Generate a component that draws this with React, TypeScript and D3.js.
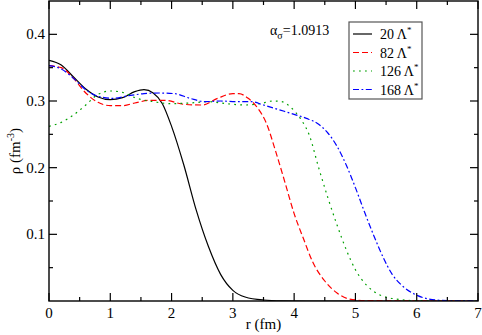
import React from 'react';
import * as d3 from 'd3';

// radial density profiles
const r20 = [0, 0.2, 0.4, 0.6, 0.8, 1.0, 1.2, 1.4, 1.55, 1.7, 1.85, 2.0, 2.2, 2.4, 2.6, 2.8, 3.0, 3.2, 3.5, 3.8, 4.2, 7];
const rho20 = [0.361, 0.354, 0.336, 0.318, 0.306, 0.302, 0.305, 0.314, 0.317, 0.312, 0.296, 0.262, 0.204, 0.137, 0.082, 0.040, 0.016, 0.006, 0.0015, 0.0003, 0, 0];

const r82 = [0, 0.2, 0.4, 0.6, 0.8, 1.0, 1.2, 1.4, 1.65, 1.9, 2.2, 2.5, 2.75, 3.0, 3.1, 3.25, 3.4, 3.55, 3.7, 3.85, 4.0, 4.15, 4.3, 4.5, 4.7, 4.9, 5.2, 7];
const rho82 = [0.353, 0.350, 0.334, 0.312, 0.298, 0.293, 0.293, 0.297, 0.301, 0.301, 0.295, 0.294, 0.304, 0.311, 0.311, 0.304, 0.290, 0.266, 0.224, 0.178, 0.131, 0.094, 0.059, 0.030, 0.012, 0.003, 0.0005, 0];

const r126 = [0, 0.2, 0.4, 0.6, 0.8, 1.0, 1.2, 1.4, 1.7, 2.0, 2.3, 2.6, 2.9, 3.2, 3.45, 3.65, 3.8, 3.95, 4.1, 4.25, 4.4, 4.55, 4.7, 4.85, 5.0, 5.2, 5.4, 5.7, 6.0, 7];
const rho126 = [0.262, 0.268, 0.279, 0.294, 0.310, 0.315, 0.313, 0.305, 0.299, 0.296, 0.297, 0.299, 0.296, 0.294, 0.296, 0.300, 0.299, 0.290, 0.274, 0.248, 0.200, 0.155, 0.114, 0.077, 0.047, 0.022, 0.009, 0.0025, 0.0005, 0];

const r168 = [0, 0.2, 0.4, 0.6, 0.8, 1.05, 1.3, 1.55, 1.8, 2.05, 2.3, 2.55, 2.8, 3.05, 3.3, 3.5, 3.75, 4.0, 4.2, 4.4, 4.55, 4.7, 4.85, 5.0, 5.15, 5.3, 5.45, 5.6, 5.75, 5.95, 6.2, 6.5, 7];
const rho168 = [0.353, 0.348, 0.334, 0.317, 0.307, 0.304, 0.308, 0.311, 0.312, 0.311, 0.304, 0.299, 0.300, 0.299, 0.299, 0.294, 0.287, 0.280, 0.274, 0.265, 0.252, 0.232, 0.204, 0.170, 0.133, 0.098, 0.066, 0.040, 0.024, 0.011, 0.003, 0.0005, 0];

const seriesNames = ['20', '82', '126', '168'];
const seriesColors = ['#000000', '#ff0000', '#00a000', '#0000ff'];
const seriesDash = ['none', '6,3', '1.8,4.2', '6,2.5,1.8,2.5'];

const xTickLabels = ['0', '1', '2', '3', '4', '5', '6', '7'];
const yTickLabels = ['0.1', '0.2', '0.3', '0.4'];

const W = 482;
const H = 335;
const margin = { top: 1, right: 4, bottom: 34, left: 49 };
const font = "'Liberation Serif', 'Times New Roman', Times, serif";

export default function App() {
  const x = d3.scaleLinear().domain([0, 7]).range([margin.left, W - margin.right]);
  const y = d3.scaleLinear().domain([0, 0.45]).range([H - margin.bottom, margin.top]);

  const allR = [r20, r82, r126, r168];
  const allRho = [rho20, rho82, rho126, rho168];

  const line = d3.line<[number, number]>()
    .x(d => x(d[0]))
    .y(d => y(d[1]))
    .curve(d3.curveMonotoneX);

  const x0 = x(0), x1 = x(7), y0 = y(0), y1 = y(0.45);
  const xMajor = d3.range(0, 8, 1);
  const xMinor = d3.range(0.5, 7, 1);
  const yMajor = d3.range(0.1, 0.45, 0.1);
  const yMinor = d3.range(0.05, 0.45, 0.1);

  const legX = 349, legY = 22;
  const legRowY = [34, 52.5, 71, 89.5];

  return (
    <svg width={W} height={H} style={{ position: 'absolute', left: 0, top: 0, fontFamily: font }}>
      <rect x={0} y={0} width={W} height={H} fill="#fff" />
      <defs>
        <clipPath id="plotclip">
          <rect x={x0} y={y1} width={x1 - x0} height={y0 - y1} />
        </clipPath>
      </defs>

      <g clipPath="url(#plotclip)">
        {allR.map((rs, i) => (
          <path key={i}
            d={line(rs.map((r, k) => [r, allRho[i][k]] as [number, number])) || ''}
            fill="none" stroke={seriesColors[i]} strokeWidth={1.2}
            strokeDasharray={seriesDash[i]} />
        ))}
      </g>

      {/* frame */}
      <rect x={x0} y={y1} width={x1 - x0} height={y0 - y1} fill="none" stroke="#000" strokeWidth={1.4} />

      {/* ticks */}
      <g stroke="#000" strokeWidth={1.2}>
        {xMajor.map(v => (
          <g key={'xM' + v}>
            <line x1={x(v)} x2={x(v)} y1={y0} y2={y0 - 8} />
            <line x1={x(v)} x2={x(v)} y1={y1} y2={y1 + 8} />
          </g>
        ))}
        {xMinor.map(v => (
          <g key={'xm' + v}>
            <line x1={x(v)} x2={x(v)} y1={y0} y2={y0 - 4} />
            <line x1={x(v)} x2={x(v)} y1={y1} y2={y1 + 4} />
          </g>
        ))}
        {yMajor.map(v => (
          <g key={'yM' + v}>
            <line x1={x0} x2={x0 + 8} y1={y(v)} y2={y(v)} />
            <line x1={x1} x2={x1 - 8} y1={y(v)} y2={y(v)} />
          </g>
        ))}
        {yMinor.map(v => (
          <g key={'ym' + v}>
            <line x1={x0} x2={x0 + 4} y1={y(v)} y2={y(v)} />
            <line x1={x1} x2={x1 - 4} y1={y(v)} y2={y(v)} />
          </g>
        ))}
      </g>

      {/* tick labels */}
      <g fontSize={15} fill="#000">
        {xTickLabels.map((t, i) => (
          <text key={'xl' + t} x={x(xMajor[i])} y={y0 + 17} textAnchor="middle">{t}</text>
        ))}
        {yTickLabels.map((t, i) => (
          <text key={'yl' + t} x={x0 - 4} y={y(yMajor[i]) + 5} textAnchor="end">{t}</text>
        ))}
      </g>

      {/* axis titles */}
      <text x={(x0 + x1) / 2} y={329} textAnchor="middle" fontSize={15}>r (fm)</text>
      <text transform={`translate(20, ${(y0 + y1) / 2}) rotate(-90)`} textAnchor="middle" fontSize={15}>
        ρ (fm<tspan dy={-6} fontSize={10}>-3</tspan><tspan dy={6}>)</tspan>
      </text>

      {/* annotation */}
      <text x={270} y={35} fontSize={14}>
        α<tspan dy={4} fontSize={10}>σ</tspan><tspan dy={-4}>=1.0913</tspan>
      </text>

      {/* legend */}
      <rect x={legX} y={legY} width={73} height={77} fill="#fff" stroke="#555" strokeWidth={1.2} />
      {seriesNames.map((n, i) => (
        <g key={'leg' + n}>
          <line x1={353} x2={372} y1={legRowY[i]} y2={legRowY[i]} stroke={seriesColors[i]}
            strokeWidth={1.2} strokeDasharray={seriesDash[i]} />
          <text x={380} y={legRowY[i] + 5} fontSize={14}>
            {n} Λ<tspan dy={-6} fontSize={9}>*</tspan>
          </text>
        </g>
      ))}
    </svg>
  );
}
